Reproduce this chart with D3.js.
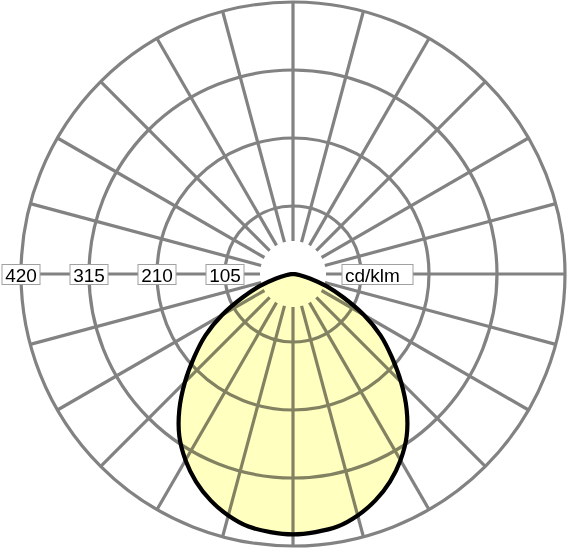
<!DOCTYPE html>
<html>
<head>
<meta charset="utf-8">
<script src="https://cdn.jsdelivr.net/npm/d3@7"></script>
<style>
body { margin: 0; background: #fff; }
svg { display: block; }
</style>
</head>
<body>
<div id="chart"></div>
<script>
// luminous intensity (cd/klm) against angle from nadir, one half, mirrored
const gammaDeg = [0, 5, 10, 15, 20, 25, 30, 35, 40, 45, 50, 55, 60, 65, 70, 75, 80, 85, 90];
const intensity = [402, 400, 396, 386, 372, 354, 332, 306, 273, 236, 199, 165, 126, 86, 55, 27, 11, 3, 0];
const ringTicks = [105, 210, 315, 420];
const spokeAngles = d3.range(0, 360, 15);
const unitLabel = "cd/klm";

const W = 568, H = 550;
const cx = 293, cy = 274;
const R = 272;

const svg = d3.select("#chart")
  .append("svg")
  .attr("width", W)
  .attr("height", H);

const r = d3.scaleLinear()
  .domain([0, 420])
  .range([0, R]);

const g = svg.append("g")
  .attr("transform", "translate(" + cx + "," + cy + ")");

// grid
const grid = g.append("g")
  .attr("stroke", "#828282")
  .attr("stroke-width", 3.2)
  .attr("fill", "none");

grid.selectAll("circle")
  .data(ringTicks)
  .enter().append("circle")
  .attr("r", d => r(d));

const innerR = 33;
grid.selectAll("line")
  .data(spokeAngles)
  .enter().append("line")
  .attr("x1", d => innerR * Math.sin(d * Math.PI / 180))
  .attr("y1", d => -innerR * Math.cos(d * Math.PI / 180))
  .attr("x2", d => r(420) * Math.sin(d * Math.PI / 180))
  .attr("y2", d => -r(420) * Math.cos(d * Math.PI / 180));

// curve points, left half then right half
let pts = [];
for (let i = gammaDeg.length - 1; i >= 0; i--) {
  pts.push({a: Math.PI + gammaDeg[i] * Math.PI / 180, v: intensity[i]});
}
for (let i = 1; i < gammaDeg.length; i++) {
  pts.push({a: Math.PI - gammaDeg[i] * Math.PI / 180, v: intensity[i]});
}

const radial = d3.lineRadial()
  .angle(d => d.a)
  .radius(d => r(d.v))
  .curve(d3.curveCatmullRom);

g.append("path")
  .attr("d", radial(pts) + "Z")
  .attr("fill", "#ffffc0")
  .style("mix-blend-mode", "multiply");

g.append("path")
  .attr("d", radial(pts) + "Z")
  .attr("fill", "none")
  .attr("stroke", "#000")
  .attr("stroke-width", 4.2)
  .attr("stroke-linejoin", "round");

// ring labels on the left
const lab = g.selectAll("g.lab")
  .data(ringTicks)
  .enter().append("g")
  .attr("class", "lab")
  .attr("transform", d => "translate(" + (-r(d)) + ",0)");

lab.append("rect")
  .attr("x", -19)
  .attr("y", -9.5)
  .attr("width", 38)
  .attr("height", 20)
  .attr("fill", "#fff")
  .attr("stroke", "#a0a0a0")
  .attr("stroke-width", 1);

lab.append("text")
  .attr("text-anchor", "middle")
  .attr("y", 7.5)
  .attr("font-family", "Liberation Sans, Arial, sans-serif")
  .attr("font-size", 19)
  .attr("fill", "#000")
  .text(d => d);

// unit label
const u = g.append("g").attr("transform", "translate(49,0)");
u.append("rect")
  .attr("x", 0)
  .attr("y", -9.5)
  .attr("width", 71)
  .attr("height", 20)
  .attr("fill", "#fff")
  .attr("stroke", "#a0a0a0")
  .attr("stroke-width", 1);
u.append("text")
  .attr("x", 3)
  .attr("y", 7.5)
  .attr("font-family", "Liberation Sans, Arial, sans-serif")
  .attr("font-size", 19)
  .attr("fill", "#000")
  .text(unitLabel);
</script>
</body>
</html>
